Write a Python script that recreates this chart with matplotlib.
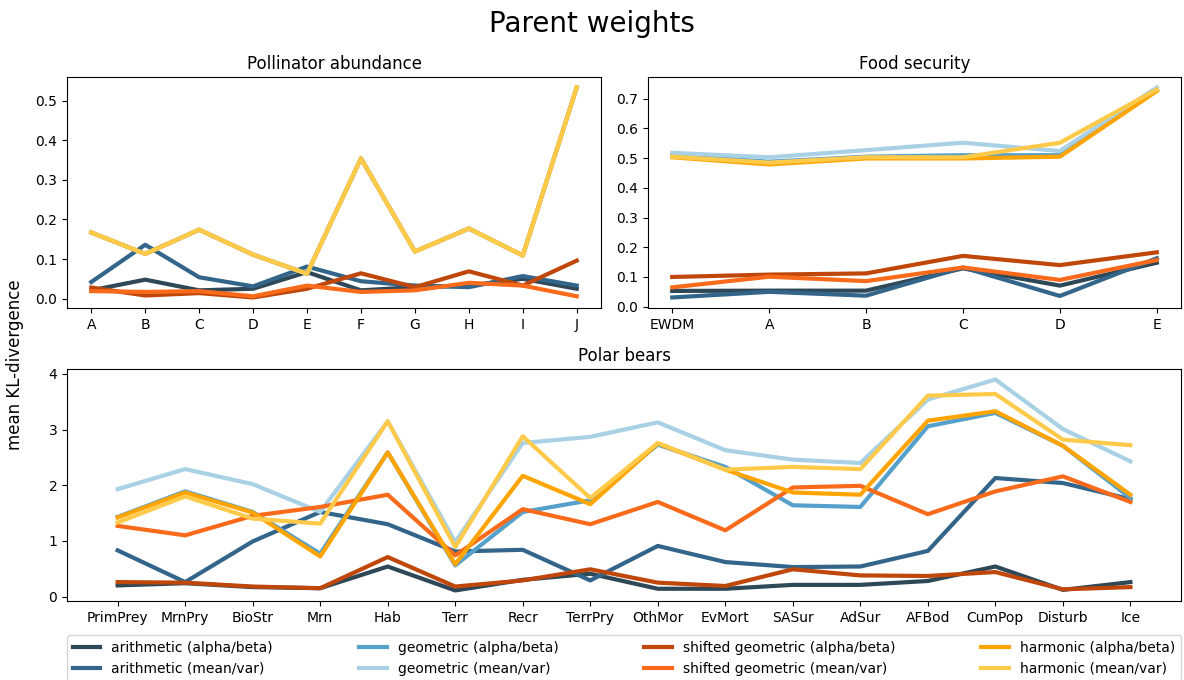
import matplotlib
matplotlib.use("Agg")
import matplotlib.pyplot as plt

# --- categories -------------------------------------------------------------
poll_nodes = ["A", "B", "C", "D", "E", "F", "G", "H", "I", "J"]
food_nodes = ["EWDM", "A", "B", "C", "D", "E"]
bear_nodes = ["PrimPrey", "MrnPry", "BioStr", "Mrn", "Hab", "Terr", "Recr", "TerrPry",
              "OthMor", "EvMort", "SASur", "AdSur", "AFBod", "CumPop", "Disturb", "Ice"]

series_labels = ["arithmetic (alpha/beta)", "arithmetic (mean/var)",
                 "geometric (alpha/beta)", "geometric (mean/var)",
                 "shifted geometric (alpha/beta)", "shifted geometric (mean/var)",
                 "harmonic (alpha/beta)", "harmonic (mean/var)"]
series_colors = ["#2F4858", "#33658A", "#55A1CC", "#A9D1E6",
                 "#C0470A", "#F96A1B", "#FFA400", "#FFCA4A"]

# --- Pollinator abundance ---------------------------------------------------
poll_arith_ab = [0.021, 0.048, 0.021, 0.025, 0.067, 0.021, 0.029, 0.033, 0.050, 0.025]
poll_arith_mv = [0.042, 0.136, 0.054, 0.031, 0.081, 0.044, 0.033, 0.029, 0.057, 0.033]
poll_geom_ab = [0.167, 0.113, 0.174, 0.111, 0.063, 0.354, 0.119, 0.177, 0.109, 0.533]
poll_geom_mv = [0.167, 0.113, 0.174, 0.111, 0.063, 0.354, 0.119, 0.177, 0.109, 0.533]
poll_shift_ab = [0.028, 0.008, 0.014, 0.003, 0.025, 0.064, 0.029, 0.069, 0.033, 0.096]
poll_shift_mv = [0.019, 0.017, 0.019, 0.006, 0.033, 0.017, 0.021, 0.040, 0.033, 0.006]
poll_harm_ab = [0.167, 0.113, 0.174, 0.111, 0.063, 0.354, 0.119, 0.177, 0.109, 0.533]
poll_harm_mv = [0.167, 0.113, 0.174, 0.111, 0.063, 0.354, 0.119, 0.177, 0.109, 0.533]

# --- Food security ----------------------------------------------------------
food_arith_ab = [0.053, 0.054, 0.054, 0.129, 0.071, 0.148]
food_arith_mv = [0.031, 0.050, 0.037, 0.132, 0.036, 0.163]
food_geom_ab = [0.510, 0.488, 0.505, 0.510, 0.510, 0.730]
food_geom_mv = [0.518, 0.503, 0.527, 0.552, 0.524, 0.738]
food_shift_ab = [0.100, 0.108, 0.112, 0.171, 0.140, 0.183]
food_shift_mv = [0.065, 0.101, 0.086, 0.132, 0.090, 0.157]
food_harm_ab = [0.503, 0.479, 0.499, 0.499, 0.505, 0.726]
food_harm_mv = [0.505, 0.485, 0.503, 0.503, 0.552, 0.731]

# --- Polar bears ------------------------------------------------------------
bear_arith_ab = [0.20, 0.24, 0.17, 0.15, 0.54, 0.11, 0.30, 0.41,
                 0.14, 0.14, 0.21, 0.21, 0.28, 0.54, 0.12, 0.26]
bear_arith_mv = [0.83, 0.26, 0.99, 1.52, 1.30, 0.81, 0.84, 0.29,
                 0.91, 0.62, 0.53, 0.54, 0.82, 2.13, 2.04, 1.75]
bear_geom_ab = [1.43, 1.89, 1.52, 0.77, 2.59, 0.56, 1.52, 1.73,
                2.73, 2.33, 1.64, 1.61, 3.06, 3.30, 2.71, 1.77]
bear_geom_mv = [1.93, 2.29, 2.02, 1.52, 3.15, 0.98, 2.76, 2.87,
                3.13, 2.63, 2.46, 2.40, 3.54, 3.90, 3.01, 2.43]
bear_shift_ab = [0.26, 0.25, 0.18, 0.15, 0.71, 0.18, 0.29, 0.49,
                 0.25, 0.19, 0.49, 0.38, 0.37, 0.44, 0.13, 0.17]
bear_shift_mv = [1.27, 1.10, 1.45, 1.61, 1.83, 0.74, 1.57, 1.30,
                 1.70, 1.19, 1.96, 1.99, 1.48, 1.89, 2.16, 1.70]
bear_harm_ab = [1.42, 1.87, 1.51, 0.72, 2.59, 0.58, 2.17, 1.66,
                2.75, 2.28, 1.87, 1.83, 3.16, 3.33, 2.71, 1.83]
bear_harm_mv = [1.33, 1.80, 1.40, 1.31, 3.15, 0.89, 2.88, 1.77,
                2.76, 2.28, 2.33, 2.29, 3.61, 3.64, 2.82, 2.72]

poll_series = [poll_arith_ab, poll_arith_mv, poll_geom_ab, poll_geom_mv,
               poll_shift_ab, poll_shift_mv, poll_harm_ab, poll_harm_mv]
food_series = [food_arith_ab, food_arith_mv, food_geom_ab, food_geom_mv,
               food_shift_ab, food_shift_mv, food_harm_ab, food_harm_mv]
bear_series = [bear_arith_ab, bear_arith_mv, bear_geom_ab, bear_geom_mv,
               bear_shift_ab, bear_shift_mv, bear_harm_ab, bear_harm_mv]

fig = plt.figure(figsize=(11.84, 6.8), dpi=100)
ax_poll = fig.add_axes([0.0566, 0.5471, 0.4510, 0.3397])
ax_food = fig.add_axes([0.5473, 0.5471, 0.4502, 0.3397])
ax_bear = fig.add_axes([0.0566, 0.1162, 0.9409, 0.3412])


def draw_panel(ax, nodes, series, title):
    for values, label, color in zip(series, series_labels, series_colors):
        ax.plot(nodes, values, color=color, lw=3, label=label)
    ax.set_title(title, fontsize=12)


draw_panel(ax_poll, poll_nodes, poll_series, "Pollinator abundance")
draw_panel(ax_food, food_nodes, food_series, "Food security")
draw_panel(ax_bear, bear_nodes, bear_series, "Polar bears")

ax_poll.set_yticks([0.0, 0.1, 0.2, 0.3, 0.4, 0.5])
ax_food.set_yticks([0.0, 0.1, 0.2, 0.3, 0.4, 0.5, 0.6, 0.7])
ax_bear.set_yticks([0, 1, 2, 3, 4])

fig.suptitle("Parent weights", fontsize=20, y=0.985)
fig.text(0.013, 0.463, "mean KL-divergence", rotation=90, fontsize=12,
         ha="center", va="center")

ax_bear.legend(loc="upper left", bbox_to_anchor=(0.0, -0.147, 1.0, 0.0),
               mode="expand", ncol=4, fontsize=10, borderaxespad=0.0)

fig.savefig("out.png", dpi=100)
